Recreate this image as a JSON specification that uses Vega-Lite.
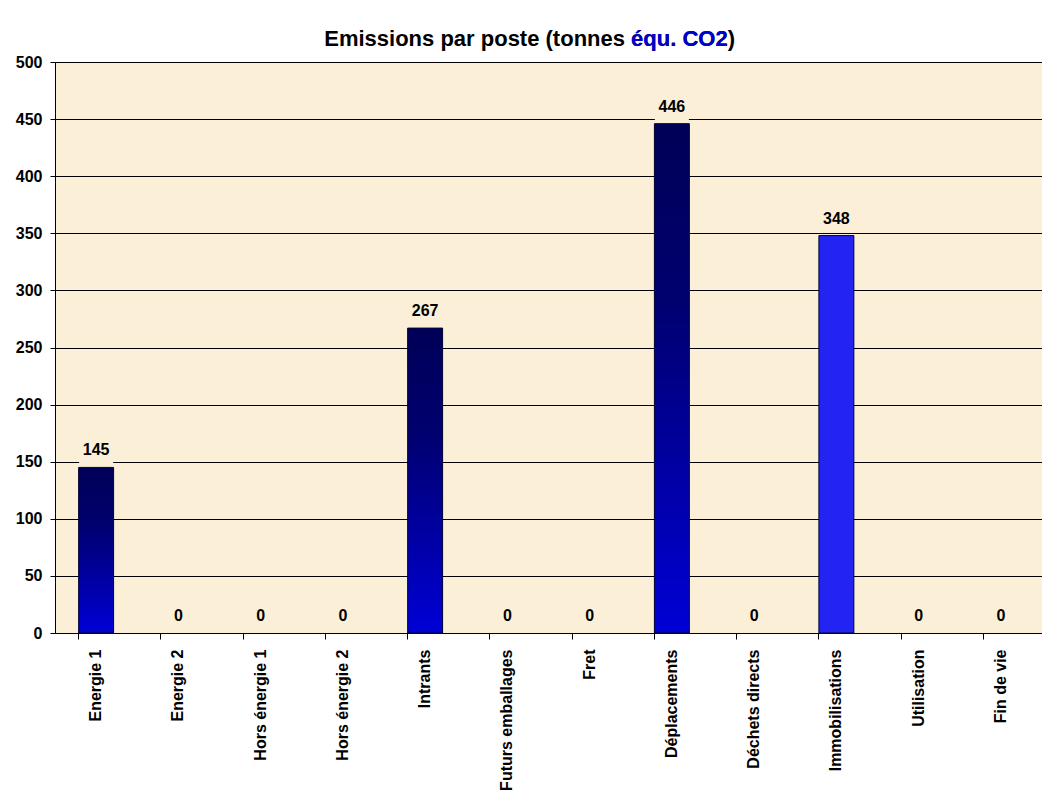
{
  "$schema": "https://vega.github.io/schema/vega-lite/v6.json",
  "width": 987,
  "height": 571,
  "autosize": {"type": "none"},
  "padding": {"left": 55, "top": 62, "right": 0, "bottom": 172},
  "background": "white",
  "title": {
    "text": "Emissions par poste (tonnes équ. CO2)",
    "subtitle": "équ. CO2\u2004\u200D",
    "anchor": "end",
    "frame": "group",
    "dx": -307,
    "offset": 3,
    "font": "Liberation Sans",
    "fontSize": 22,
    "fontWeight": "bold",
    "color": "#000000",
    "subtitleFont": "Liberation Sans",
    "subtitleFontSize": 22,
    "subtitleFontWeight": "bold",
    "subtitleColor": "#0000CC",
    "subtitlePadding": -22
  },
  "data": {
    "values": [
      {"poste": "Energie 1", "tonnes": 145, "motif": "dégradé"},
      {"poste": "Energie 2", "tonnes": 0, "motif": "dégradé"},
      {"poste": "Hors énergie 1", "tonnes": 0, "motif": "dégradé"},
      {"poste": "Hors énergie 2", "tonnes": 0, "motif": "dégradé"},
      {"poste": "Intrants", "tonnes": 267, "motif": "dégradé"},
      {"poste": "Futurs emballages", "tonnes": 0, "motif": "dégradé"},
      {"poste": "Fret", "tonnes": 0, "motif": "dégradé"},
      {"poste": "Déplacements", "tonnes": 446, "motif": "dégradé"},
      {"poste": "Déchets directs", "tonnes": 0, "motif": "dégradé"},
      {"poste": "Immobilisations", "tonnes": 348, "motif": "pointillé"},
      {"poste": "Utilisation", "tonnes": 0, "motif": "dégradé"},
      {"poste": "Fin de vie", "tonnes": 0, "motif": "dégradé"}
    ]
  },
  "encoding": {
    "x": {
      "field": "poste",
      "type": "nominal",
      "sort": ["Energie 1", "Energie 2", "Hors énergie 1", "Hors énergie 2", "Intrants", "Futurs emballages", "Fret", "Déplacements", "Déchets directs", "Immobilisations", "Utilisation", "Fin de vie"],
      "scale": {"paddingInner": 0.575, "paddingOuter": 0.2875},
      "axis": {
        "title": null,
        "labelAngle": -90,
        "labelFont": "Liberation Sans",
        "labelFontSize": 16,
        "labelFontWeight": "bold",
        "labelColor": "#000000",
        "labelPadding": 10,
        "labelLimit": 200,
        "bandPosition": 0,
        "ticks": true,
        "tickSize": 6,
        "tickColor": "#000000",
        "domainColor": "#000000",
        "domainWidth": 1,
        "grid": false
      }
    },
    "y": {
      "field": "tonnes",
      "type": "quantitative",
      "scale": {"domain": [0, 500], "nice": false},
      "axis": {
        "title": null,
        "values": [0, 50, 100, 150, 200, 250, 300, 350, 400, 450, 500],
        "labelFont": "Liberation Sans",
        "labelFontSize": 16,
        "labelFontWeight": "bold",
        "labelColor": "#000000",
        "labelPadding": 8,
        "tickSize": 5,
        "tickColor": "#000000",
        "domainColor": "#000000",
        "grid": true,
        "gridColor": "#000000",
        "gridOpacity": 1,
        "gridWidth": 1
      }
    }
  },
  "layer": [
    {
      "transform": [{"filter": "datum.tonnes > 0 && datum.motif === 'dégradé'"}],
      "mark": {
        "type": "bar",
        "stroke": "#000033",
        "strokeWidth": 1,
        "color": {
          "gradient": "linear",
          "x1": 0, "y1": 0, "x2": 0, "y2": 1,
          "stops": [
            {"offset": 0, "color": "#000058"},
            {"offset": 0.35, "color": "#000070"},
            {"offset": 1, "color": "#0000D6"}
          ]
        }
      }
    },
    {
      "transform": [{"filter": "datum.tonnes > 0 && datum.motif === 'pointillé'"}],
      "mark": {"type": "bar", "color": "#2424F2", "stroke": "#000033", "strokeWidth": 1}
    },
    {
      "mark": {
        "type": "point",
        "shape": "M-1,-1.65H1V-0.18H-1Z",
        "size": 1156,
        "filled": true,
        "fill": "#FBF0D7",
        "strokeWidth": 0,
        "opacity": 1
      }
    },
    {
      "mark": {
        "type": "text",
        "dy": -17,
        "baseline": "middle",
        "font": "Liberation Sans",
        "fontSize": 16,
        "fontWeight": "bold",
        "color": "#000000"
      },
      "encoding": {"text": {"field": "tonnes", "type": "quantitative"}}
    }
  ],
  "config": {
    "view": {"fill": "#FBF0D7", "stroke": "#808080", "strokeWidth": 1}
  }
}
